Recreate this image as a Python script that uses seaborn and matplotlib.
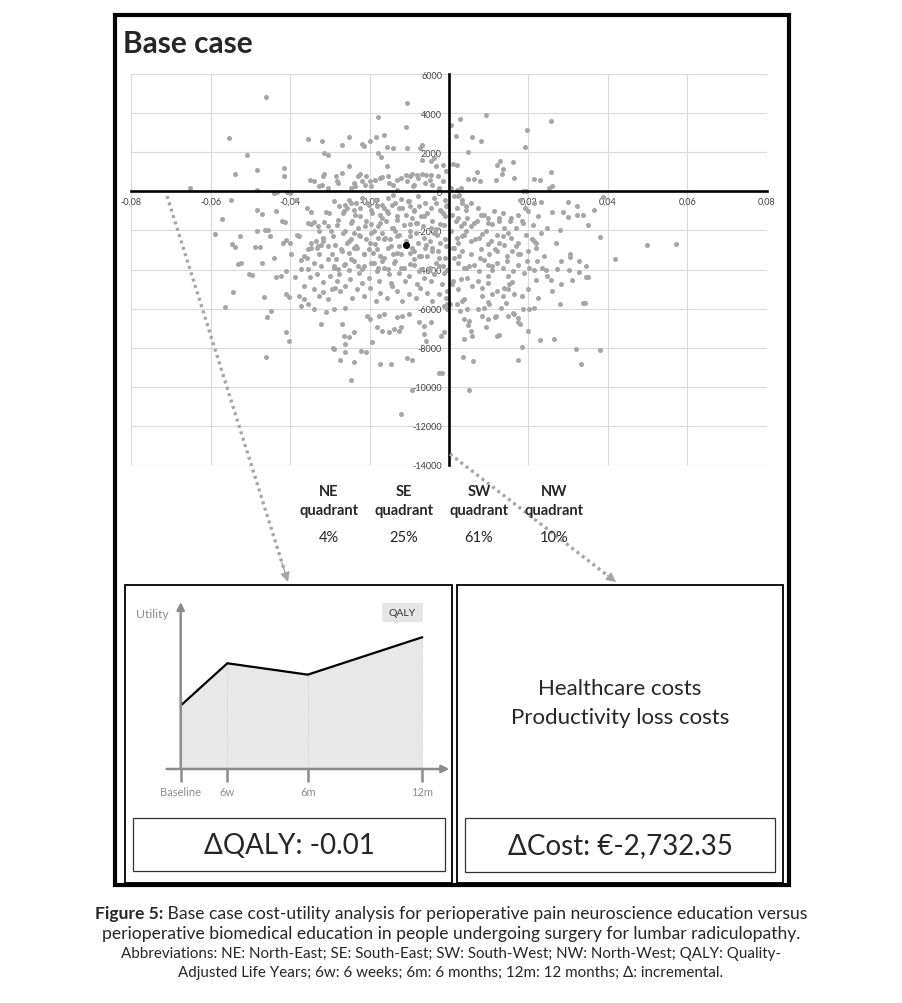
import matplotlib
matplotlib.use("Agg")
import matplotlib.pyplot as plt
import pandas as pd
import seaborn as sns
from matplotlib.patches import Rectangle
from matplotlib.ticker import FuncFormatter, MultipleLocator

W, H = 902, 1004

ne_points = [
    (0.0004, 3400), (0.0028, 3700), (0.0093, 3930), (0.0017, 2820), (0.0058, 2780), (0.0080, 2600),
    (0.0047, 2040), (0.0020, 1360), (0.0257, 3620), (0.0196, 3160), (0.0191, 2290), (0.0129, 1580),
    (0.0162, 1490), (0.0122, 1340), (0.0137, 1130), (0.0133, 900), (0.0257, 1010), (0.0213, 620),
    (0.0228, 600), (0.0164, 680), (0.0071, 1000), (0.0049, 630), (0.0063, 650), (0.0078, 545),
    (0.0118, 560), (0.0259, 290), (0.0252, 170), (0.0186, 30), (0.0195, 30), (0.0010, 1390),
    (0.0021, 85), (0.0030, 170), (0.0005, 170),
]

nw_points = [
    (-0.0461, 4850), (-0.0555, 2720), (-0.0508, 1870), (-0.0483, 1105), (-0.0539, 900), (-0.0653, 170),
    (-0.0415, 1190), (-0.0415, 800), (-0.0355, 2670), (-0.0320, 2600), (-0.0315, 1955), (-0.0304, 1870),
    (-0.0252, 2800), (-0.0251, 1325), (-0.0269, 2380), (-0.0219, 2430), (-0.0213, 2345), (-0.0199, 2600),
    (-0.0184, 2800), (-0.0180, 3790), (-0.0163, 2890), (-0.0157, 2295), (-0.0142, 2210), (-0.0171, 1735),
    (-0.0180, 1990), (-0.0157, 1310), (-0.0105, 4505), (-0.0109, 3280), (-0.0107, 2245), (-0.0069, 2365),
    (-0.0072, 2230), (-0.0069, 1615), (-0.0046, 1565), (-0.0038, 1700), (-0.0033, 1275), (-0.0015, 1360),
    (-0.0008, 1020), (-0.0108, 850), (-0.0093, 880), (-0.0080, 850), (-0.0067, 870), (-0.0059, 860),
    (-0.0046, 850), (-0.0350, 560), (-0.0339, 510), (-0.0317, 765), (-0.0284, 800), (-0.0279, 425),
    (-0.0240, 425), (-0.0224, 900), (-0.0208, 765), (-0.0186, 595), (-0.0169, 730), (-0.0153, 765),
    (-0.0131, 595), (-0.0098, 765), (-0.0077, 680), (-0.0049, 595), (-0.0027, 765), (-0.0016, 510),
    (-0.0044, 340), (-0.0087, 340), (-0.0142, 340), (-0.0197, 255), (-0.0246, 170), (-0.0306, 170),
    (-0.0328, 255), (-0.0131, 85), (-0.0484, 85), (-0.0314, 885), (-0.0320, 340), (-0.0282, 510),
    (-0.0269, 935), (-0.0237, 255), (-0.0228, 765), (-0.0219, 510), (-0.0211, 340), (-0.0198, 545),
    (-0.0174, 680), (-0.0152, 425), (-0.0120, 680), (-0.0105, 510), (-0.0090, 255), (-0.0060, 425),
    (-0.0025, 170),
]

se_points = [
    (0.0022, -254), (0.0033, -593), (0.0044, -932), (0.0022, -1356), (0.0038, -1610), (0.0055, -1780),
    (0.0071, -1526), (0.0087, -1187), (0.0098, -1610), (0.0109, -1695), (0.0126, -1356), (0.0137, -1102),
    (0.0153, -1526), (0.0169, -1865), (0.0186, -1610), (0.0180, -424), (0.0191, -848), (0.0213, -593),
    (0.0231, -560), (0.0300, -545), (0.0322, -765), (0.0224, -1275), (0.0260, -1055), (0.0286, -1055),
    (0.0300, -1325), (0.0322, -1200), (0.0338, -1220), (0.0365, -935), (0.0387, -305), (0.0351, -1735),
    (0.0248, -1900), (0.0280, -2000), (0.0231, -2125), (0.0220, -2640), (0.0220, -2890), (0.0270, -2640),
    (0.0381, -2345), (0.0499, -2750), (0.0571, -2690), (0.0306, -3220),
    (0.0013, -255), (0.0025, -170), (0.0034, -425), (0.0021, -850), (0.0042, -765), (0.0055, -595),
    (0.0072, -850), (0.0008, -1190), (0.0017, -1530), (0.0029, -1785), (0.0046, -1360), (0.0063, -1615),
    (0.0080, -1190), (0.0097, -1360), (0.0114, -1020), (0.0126, -1530), (0.0139, -1870), (0.0156, -1360),
    (0.0173, -1190), (0.0185, -1530), (0.0198, -1020), (0.0211, -1700), (0.0004, -2040), (0.0021, -2380),
    (0.0038, -2210), (0.0055, -2550), (0.0076, -2380), (0.0093, -2040), (0.0105, -2550), (0.0122, -2210),
    (0.0139, -2720), (0.0156, -2380), (0.0173, -2635), (0.0194, -2210), (0.0215, -2550), (0.0013, -2890),
    (0.0034, -3060), (0.0055, -3230), (0.0080, -2975), (0.0101, -3230), (0.0122, -3060), (0.0147, -3315),
    (0.0173, -3230), (0.0198, -3060),
    (0.0011, -2882), (0.0022, -2627), (0.0033, -2288), (0.0044, -2034), (0.0066, -2458), (0.0082, -2204),
    (0.0098, -2712), (0.0115, -2966), (0.0126, -2627), (0.0137, -2288), (0.0148, -2119), (0.0158, -3051),
    (0.0169, -2797), (0.0180, -3221), (0.0197, -3560), (0.0208, -2458), (0.0109, -3814), (0.0077, -3390),
    (0.0044, -3899), (0.0022, -3644), (0.0344, -3814),
    (0.0013, -3407), (0.0025, -3322), (0.0038, -3915), (0.0051, -3831), (0.0063, -3746), (0.0076, -4085),
    (0.0088, -3492), (0.0097, -3746), (0.0109, -4000), (0.0122, -3661), (0.0135, -3915), (0.0147, -3576),
    (0.0160, -4085), (0.0173, -3746), (0.0189, -4170), (0.0202, -3915), (0.0215, -4000),
    (0.0008, -4763), (0.0029, -4508), (0.0046, -4424), (0.0059, -4847), (0.0072, -4593), (0.0084, -4932),
    (0.0097, -4678), (0.0109, -5271), (0.0122, -5102), (0.0139, -4932), (0.0152, -4763), (0.0164, -5271),
    (0.0185, -5356), (0.0198, -5017),
    (0.0021, -5780), (0.0034, -5610), (0.0046, -6034), (0.0072, -6034), (0.0088, -5949), (0.0101, -5780),
    (0.0118, -6373), (0.0131, -5949), (0.0143, -5695), (0.0160, -6203), (0.0173, -6458), (0.0202, -6034),
    (0.0215, -5949),
    (0.0038, -7559), (0.0051, -6627), (0.0055, -7136), (0.0059, -7390), (0.0094, -6966), (0.0122, -7390),
    (0.0173, -6712), (0.0185, -7983), (0.0198, -7136), (0.0035, -8458), (0.0061, -8695), (0.0175, -8627),
    (0.0051, -10153),
    (0.0022, -5000), (0.0038, -5509), (0.0082, -5339), (0.0098, -5678), (0.0137, -5339), (0.0148, -5000),
    (0.0158, -4661), (0.0186, -6017), (0.0098, -4322), (0.0148, -4322), (0.0011, -4577), (0.0003, -5780),
    (0.0027, -6102), (0.0038, -6526), (0.0049, -6865), (0.0082, -6356), (0.0098, -6526), (0.0115, -6441),
    (0.0126, -7373), (0.0148, -6356), (0.0164, -6271), (0.0180, -6780),
    (0.0240, -3290), (0.0305, -3373), (0.0328, -3542), (0.0282, -3576), (0.0417, -3440), (0.0221, -3540),
    (0.0235, -3915), (0.0244, -4050), (0.0273, -3950), (0.0303, -4034), (0.0327, -4136), (0.0345, -4390),
    (0.0351, -4390), (0.0219, -4542), (0.0246, -4339), (0.0257, -4542), (0.0282, -4763), (0.0309, -4542),
    (0.0260, -5102), (0.0225, -5475), (0.0279, -5780), (0.0337, -5712), (0.0343, -5712), (0.0230, -7610),
    (0.0265, -7560), (0.0321, -8068), (0.0381, -8119), (0.0332, -8831),
]

sw_points = [
    (-0.0549, -440), (-0.0572, -1395), (-0.0589, -2180), (-0.0526, -2300), (-0.0546, -2670), (-0.0540, -2860),
    (-0.0488, -2840), (-0.0477, -2840), (-0.0484, -935), (-0.0470, -1160), (-0.0484, -2040), (-0.0463, -1955),
    (-0.0456, -1955), (-0.0450, -2300), (-0.0440, -3400), (-0.0437, -1020), (-0.0420, -1530), (-0.0413, -1560),
    (-0.0411, -2470), (-0.0418, -2640), (-0.0400, -2640), (-0.0399, -3200), (-0.0386, -425), (-0.0378, -2300),
    (-0.0383, -2220), (-0.0374, -3490), (-0.0357, -850), (-0.0348, -1055), (-0.0355, -1600), (-0.0347, -1650),
    (-0.0339, -1580), (-0.0331, -1790), (-0.0327, -2040), (-0.0336, -2550), (-0.0348, -2900), (-0.0357, -3400),
    (-0.0330, -2800), (-0.0322, -2720), (-0.0318, -2550), (-0.0310, -1050), (-0.0302, -1130), (-0.0315, -1550),
    (-0.0305, -1790), (-0.0296, -2040), (-0.0292, -2300), (-0.0441, -85), (-0.0433, -40), (-0.0408, -30),
    (-0.0400, -60),
    (-0.0355, -2966), (-0.0348, -2627), (-0.0333, -2882), (-0.0328, -3221), (-0.0317, -2373), (-0.0306, -2797),
    (-0.0295, -3221), (-0.0366, -3305), (-0.0355, -3983), (-0.0339, -3644), (-0.0322, -3814), (-0.0306, -3475),
    (-0.0290, -3814),
    (-0.0532, -3729), (-0.0525, -3678), (-0.0470, -3644), (-0.0465, -5424), (-0.0448, -6102), (-0.0459, -6441),
    (-0.0544, -5170), (-0.0563, -5933), (-0.0505, -4238), (-0.0497, -4288), (-0.0437, -4407), (-0.0424, -4356),
    (-0.0410, -5255), (-0.0404, -5424), (-0.0388, -4407), (-0.0410, -4068), (-0.0377, -5339), (-0.0366, -5509),
    (-0.0372, -5848), (-0.0355, -5763), (-0.0339, -5000), (-0.0328, -5339), (-0.0317, -5170), (-0.0306, -5509),
    (-0.0295, -5000), (-0.0366, -4831), (-0.0350, -4407), (-0.0333, -4238), (-0.0317, -4661), (-0.0301, -4322),
    (-0.0372, -3983), (-0.0462, -8475), (-0.0410, -7204), (-0.0404, -7678), (-0.0322, -6780), (-0.0292, -8017),
    (-0.0339, -6017), (-0.0311, -6200),
    (-0.0262, -678), (-0.0257, -848), (-0.0240, -966), (-0.0224, -1271), (-0.0208, -1526), (-0.0197, -1695),
    (-0.0186, -424), (-0.0169, -678), (-0.0153, -339), (-0.0137, -593), (-0.0120, -390), (-0.0104, -508),
    (-0.0197, -932), (-0.0175, -1187), (-0.0153, -1102), (-0.0131, -1441), (-0.0109, -1187), (-0.0087, -932),
    (-0.0071, -1271), (-0.0055, -1102), (-0.0082, -1610), (-0.0066, -1780), (-0.0044, -1526), (-0.0022, -1695),
    (-0.0011, -1271), (-0.0022, -932), (-0.0016, -1102), (-0.0009, -424), (-0.0005, -678), (-0.0279, -1441),
    (-0.0251, -424), (-0.0235, -593), (-0.0219, -339), (-0.0202, -678), (-0.0164, -848), (-0.0142, -170),
    (-0.0126, -848), (-0.0098, -763), (-0.0077, -254), (-0.0060, -593), (-0.0038, -339), (-0.0268, -1102),
    (-0.0246, -1610), (-0.0230, -1865), (-0.0180, -1780), (-0.0158, -1526), (-0.0142, -1865), (-0.0098, -1695),
    (-0.0093, -1356), (-0.0033, -1949),
    (-0.0284, -3475), (-0.0273, -2966), (-0.0257, -2627), (-0.0246, -2458), (-0.0235, -2797), (-0.0224, -2288),
    (-0.0213, -3221), (-0.0202, -2966), (-0.0197, -2119), (-0.0186, -2712), (-0.0175, -3305), (-0.0164, -2458),
    (-0.0153, -2882), (-0.0142, -3221), (-0.0131, -2288), (-0.0126, -2797), (-0.0098, -2288), (-0.0087, -3051),
    (-0.0071, -3305), (-0.0060, -2882), (-0.0049, -2543), (-0.0038, -2119), (-0.0022, -2627), (-0.0011, -2458),
    (-0.0279, -3983), (-0.0262, -3729), (-0.0246, -3475), (-0.0230, -3814), (-0.0219, -3983), (-0.0197, -3644),
    (-0.0180, -3899), (-0.0169, -3560), (-0.0153, -3983), (-0.0137, -3560), (-0.0120, -3899), (-0.0098, -3729),
    (-0.0087, -3475), (-0.0071, -3983), (-0.0049, -3899), (-0.0033, -3644), (-0.0016, -3814),
    (-0.0268, -2119), (-0.0251, -3136), (-0.0240, -2119), (-0.0208, -2458), (-0.0191, -3136), (-0.0169, -2119),
    (-0.0148, -2458), (-0.0137, -2034), (-0.0120, -3221), (-0.0109, -2543), (-0.0082, -2119), (-0.0077, -2627),
    (-0.0055, -3305), (-0.0027, -3051), (-0.0011, -3390), (-0.0240, -2882), (-0.0180, -2373), (-0.0098, -3136),
    (-0.0044, -2882),
    (-0.0290, -510), (-0.0278, -765), (-0.0265, -1020), (-0.0248, -595), (-0.0236, -1190), (-0.0223, -850),
    (-0.0206, -595), (-0.0194, -1105), (-0.0181, -765), (-0.0168, -1360), (-0.0156, -1020), (-0.0143, -680),
    (-0.0131, -1275), (-0.0118, -850), (-0.0101, -510), (-0.0088, -1020), (-0.0076, -765), (-0.0063, -1275),
    (-0.0046, -850), (-0.0034, -595), (-0.0021, -1020), (-0.0008, -765),
    (-0.0282, -1700), (-0.0261, -2040), (-0.0244, -1530), (-0.0227, -2210), (-0.0211, -1785), (-0.0189, -2040),
    (-0.0173, -1615), (-0.0160, -2380), (-0.0143, -1870), (-0.0126, -2210), (-0.0114, -1700), (-0.0097, -2040),
    (-0.0080, -1615), (-0.0063, -2380), (-0.0046, -1870), (-0.0029, -2210), (-0.0013, -1700),
    (-0.0286, -2720), (-0.0269, -3060), (-0.0253, -2550), (-0.0232, -2890), (-0.0215, -3230), (-0.0198, -2635),
    (-0.0181, -2975), (-0.0164, -3400), (-0.0147, -2805), (-0.0131, -3145), (-0.0093, -2890), (-0.0076, -3315),
    (-0.0059, -2720), (-0.0042, -3060), (-0.0025, -3400), (-0.0008, -2805),
    (-0.0290, -3915), (-0.0278, -4254), (-0.0265, -3746), (-0.0253, -4000), (-0.0240, -3576), (-0.0227, -4170),
    (-0.0215, -3831), (-0.0202, -4424), (-0.0189, -3661), (-0.0181, -4085), (-0.0164, -3915), (-0.0152, -4254),
    (-0.0139, -3661), (-0.0126, -4170), (-0.0114, -3915), (-0.0101, -4339), (-0.0088, -3746), (-0.0076, -4085),
    (-0.0063, -4424), (-0.0051, -4000), (-0.0038, -4254), (-0.0025, -3831), (-0.0013, -4170), (-0.0004, -4000),
    (-0.0282, -4593), (-0.0249, -4508), (-0.0219, -4678), (-0.0177, -4593), (-0.0147, -4678), (-0.0110, -4593),
    (-0.0080, -4763), (-0.0046, -4593), (-0.0017, -4763),
    (-0.0286, -4932), (-0.0274, -5102), (-0.0261, -4847), (-0.0244, -5441), (-0.0232, -5017), (-0.0215, -5356),
    (-0.0198, -4932), (-0.0185, -5610), (-0.0173, -5187), (-0.0156, -5441), (-0.0143, -4847), (-0.0131, -5102),
    (-0.0118, -5610), (-0.0101, -5271), (-0.0084, -5441), (-0.0072, -4932), (-0.0055, -5187), (-0.0042, -5610),
    (-0.0025, -5271), (-0.0008, -5441), (-0.0004, -5780), (-0.0004, -5100),
    (-0.0290, -6034), (-0.0261, -5949), (-0.0206, -6373), (-0.0198, -6542), (-0.0177, -6373), (-0.0164, -6288),
    (-0.0131, -6424), (-0.0118, -6373), (-0.0101, -6288), (-0.0076, -6712), (-0.0063, -6881), (-0.0046, -6712),
    (-0.0013, -5864), (-0.0004, -6034),
    (-0.0269, -6797), (-0.0265, -7390), (-0.0253, -7475), (-0.0240, -7220), (-0.0261, -7814), (-0.0194, -7729),
    (-0.0181, -6966), (-0.0168, -7136), (-0.0152, -7220), (-0.0139, -7051), (-0.0126, -7136), (-0.0122, -6966),
    (-0.0063, -7305), (-0.0059, -7678), (-0.0021, -7390), (-0.0013, -7220),
    (-0.0290, -8068), (-0.0261, -8237), (-0.0274, -8627), (-0.0240, -8746), (-0.0221, -8153), (-0.0208, -8237),
    (-0.0174, -8831), (-0.0147, -8864), (-0.0107, -8525), (-0.0094, -8627), (-0.0025, -9300), (-0.0018, -9300),
    (-0.0247, -9678), (-0.0093, -10186), (-0.0122, -11407),
]

mean_qaly = -0.0108
mean_cost = -2732.35

quadrant_names = ["NE", "SE", "SW", "NW"]
quadrant_pct = [4, 25, 61, 10]

# schematic utility curve (relative units)
time_labels = ["Baseline", "6w", "6m", "12m"]
time_pos = [0.0, 0.193, 0.526, 1.0]
utility = [0.38, 0.633, 0.565, 0.789]

delta_qaly_text = "\u0394QALY: -0.01"
delta_cost_text = "\u0394Cost: \u20ac-2,732.35"
cost_items = ["Healthcare costs", "Productivity loss costs"]

caption_bold = "Figure 5:"
caption_lines = [
    " Base case cost-utility analysis for perioperative pain neuroscience education versus",
    "perioperative biomedical education in people undergoing surgery for lumbar radiculopathy.",
    "Abbreviations: NE: North-East; SE: South-East; SW: South-West; NW: North-West; QALY: Quality-",
    "Adjusted Life Years; 6w: 6 weeks; 6m: 6 months; 12m: 12 months; \u0394: incremental.",
]

POINT_GREY = "#a6a6a6"
AXIS_GREY = "#8c8c8c"


def frac(x0, y0, x1, y1):
    """Pixel box (top-left origin) -> figure fraction rect."""
    return [x0 / W, 1 - y1 / H, (x1 - x0) / W, (y1 - y0) / H]


rows = []
for name, pts in [("NE", ne_points), ("SE", se_points), ("SW", sw_points), ("NW", nw_points)]:
    for q, c in pts:
        rows.append((name, q, c))
df = pd.DataFrame(rows, columns=["quadrant", "qaly", "cost"])

sns.set_theme(style="white")
plt.rcParams["font.family"] = ["Lato", "DejaVu Sans"]

fig = plt.figure(figsize=(W / 100, H / 100), dpi=100)

# cost-effectiveness plane
ax = fig.add_axes(frac(131, 75, 767, 466))
sns.scatterplot(data=df, x="qaly", y="cost", color=POINT_GREY, s=13, linewidth=0,
                legend=False, ax=ax, zorder=2)
ax.scatter([mean_qaly], [mean_cost], color="black", s=26, linewidth=0, zorder=3)
ax.set_xlim(-0.0801, 0.0801)
ax.set_ylim(-14010, 6010)
ax.xaxis.set_major_locator(MultipleLocator(0.02))
ax.yaxis.set_major_locator(MultipleLocator(2000))
ax.grid(True, color="#d9d9d9", lw=0.8)
ax.set_axisbelow(True)
ax.set_xlabel("")
ax.set_ylabel("")
for side in ["top", "right"]:
    ax.spines[side].set_visible(False)
for side in ["left", "bottom"]:
    ax.spines[side].set_position(("data", 0))
    ax.spines[side].set_linewidth(1.9)
    ax.spines[side].set_color("black")
ax.xaxis.set_major_formatter(FuncFormatter(
    lambda v, _: "" if abs(v) < 1e-9 else f"{v:.2f}".replace(".", ",")))
ax.yaxis.set_major_formatter(FuncFormatter(lambda v, _: f"{int(round(v))}"))
ax.tick_params(axis="both", length=0, labelsize=6.5, labelcolor="#404040")
ax.tick_params(axis="x", pad=4)
ax.tick_params(axis="y", pad=5)

# utility schematic
ax2 = fig.add_axes(frac(166.7, 603, 449.3, 770))
ax2.set_xlim(-0.058, 1.112)
ax2.set_ylim(0, 1)
ax2.fill_between(time_pos, utility, 0, color="#e8e8e8", lw=0)
for t, u in zip(time_pos[1:], utility[1:]):
    ax2.plot([t, t], [0, u], color="#c4c4c4", lw=0.6, ls=":")
sns.lineplot(x=time_pos, y=utility, color="black", lw=1.6, ax=ax2)
ax2.annotate("", xy=(1.112, 0), xytext=(-0.058, 0), annotation_clip=False,
             arrowprops=dict(arrowstyle="-|>", color=AXIS_GREY, lw=1.8, mutation_scale=11,
                             shrinkA=0, shrinkB=0))
ax2.annotate("", xy=(0, 1.0), xytext=(0, 0), annotation_clip=False,
             arrowprops=dict(arrowstyle="-|>", color=AXIS_GREY, lw=1.8, mutation_scale=11,
                             shrinkA=0, shrinkB=0))
ax2.set_xticks(time_pos, time_labels)
ax2.set_yticks([])
ax2.tick_params(axis="x", bottom=True, length=9, width=1.8, color=AXIS_GREY, direction="out",
                labelsize=8, labelcolor=AXIS_GREY, pad=3)
for side in ax2.spines:
    ax2.spines[side].set_visible(False)
ax2.patch.set_alpha(0)

# overlay in pixel units for frames, arrows and text
ov = fig.add_axes([0, 0, 1, 1])
ov.set_xlim(0, W)
ov.set_ylim(H, 0)
ov.axis("off")

ov.add_patch(Rectangle((115, 16), 674, 870, fill=False, lw=3, ec="black"))
ov.add_patch(Rectangle((125, 586), 326.7, 298, fill=False, lw=1.3, ec="black"))
ov.add_patch(Rectangle((456.7, 586), 326.6, 298, fill=False, lw=1.3, ec="black"))
ov.add_patch(Rectangle((133.3, 819.3), 311.7, 52.4, fill=False, lw=0.9, ec="#333333"))
ov.add_patch(Rectangle((465, 819.3), 310, 53.4, fill=False, lw=0.9, ec="#333333"))

ov.text(123, 44, "Base case", fontsize=21.5, weight="bold", ha="left", va="center")

for i, (name, pct) in enumerate(zip(quadrant_names, quadrant_pct)):
    x = 329 + 75 * i
    ov.text(x, 492, name, fontsize=10.5, weight="bold", ha="center", va="center")
    ov.text(x, 511, "quadrant", fontsize=10.5, weight="bold", ha="center", va="center")
    ov.text(x, 538, f"{pct}%", fontsize=10.5, ha="center", va="center")

# dotted pointers from the plane to the two panels
for (x0, y0), (x1, y1) in [((167, 197), (288, 583)), ((450, 455), (616, 583))]:
    ov.plot([x0, x1 - (x1 - x0) * 0.03], [y0, y1 - (y1 - y0) * 0.03],
            color=POINT_GREY, lw=2.4, ls=(0, (0.9, 1.1)))
    ov.annotate("", xy=(x1, y1), xytext=(x1 - (x1 - x0) * 0.05, y1 - (y1 - y0) * 0.05),
                arrowprops=dict(arrowstyle="-|>", color=POINT_GREY, lw=1, mutation_scale=14,
                                shrinkA=0, shrinkB=0))

ov.text(152, 615, "Utility", fontsize=8.8, color=AXIS_GREY, ha="center", va="center")
ov.add_patch(Rectangle((381.7, 604), 41.6, 18.7, fc="#e6e6e6", ec="none"))
ov.text(402.5, 613.5, "QALY", fontsize=7.5, color="#333333", ha="center", va="center")

ov.text(289, 846, delta_qaly_text, fontsize=20, ha="center", va="center")
ov.text(620, 846, delta_cost_text, fontsize=20, ha="center", va="center")
ov.text(620, 689, cost_items[0], fontsize=16, ha="center", va="center")
ov.text(620, 718, cost_items[1], fontsize=16, ha="center", va="center")

# caption, first line starts with a bold label
r = fig.canvas.get_renderer()
t_bold = ov.text(0, 914, caption_bold, fontsize=12.6, weight="bold", ha="left", va="center")
t_rest = ov.text(0, 914, caption_lines[0], fontsize=12.6, ha="left", va="center")
w_bold = t_bold.get_window_extent(r).width
w_rest = t_rest.get_window_extent(r).width
start = 451 - (w_bold + w_rest) / 2
t_bold.set_x(start)
t_rest.set_x(start + w_bold)
ov.text(451, 934, caption_lines[1], fontsize=12.6, ha="center", va="center")
ov.text(451, 954, caption_lines[2], fontsize=10.9, ha="center", va="center")
ov.text(451, 973, caption_lines[3], fontsize=10.9, ha="center", va="center")

fig.savefig("out.png", dpi=100)
